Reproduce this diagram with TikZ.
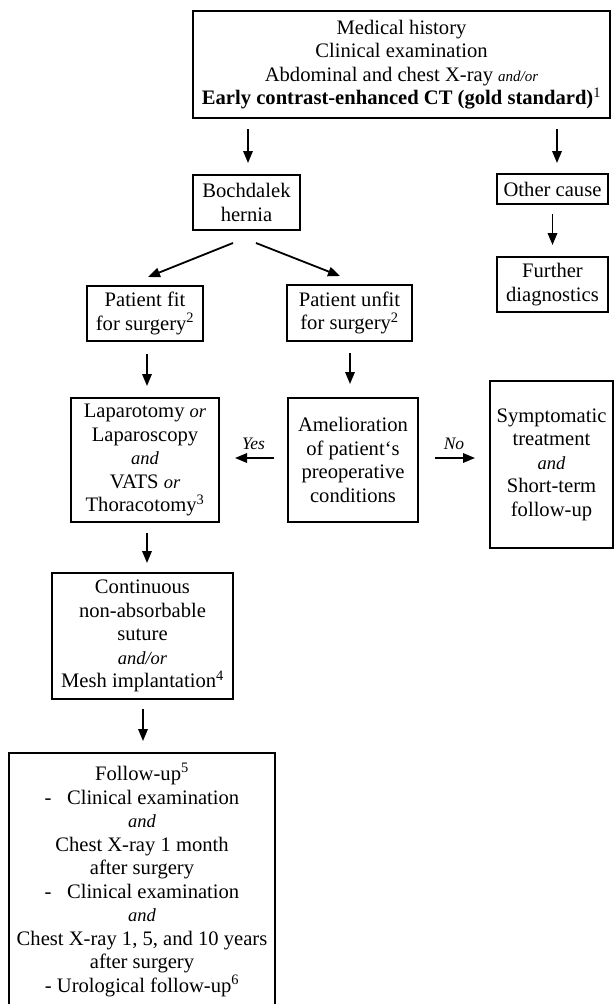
\documentclass[tikz,border=0pt]{standalone}
\usepackage{fontspec}
\setmainfont{Liberation Serif}
\usetikzlibrary{arrows.meta,calc}
\newcommand{\ita}[1]{{\fontsize{18.5}{23.5}\selectfont\itshape #1}}
\begin{document}
\begin{tikzpicture}[
  x=1pt,y=1pt,
  box/.style={draw, line width=2pt, align=center, inner sep=0pt,
    font=\fontsize{20.6}{23.5}\selectfont},
  arr/.style={line width=1.8pt, -{Triangle[length=12pt,width=9.5pt]}},
  lbl/.style={font=\fontsize{17.5}{20}\selectfont\itshape, inner sep=0pt}
]
\useasboundingbox (0,0) rectangle (614,-1004);

\node[box, minimum width=417pt, minimum height=107pt] (top) at (401.5,-64.5)
  {Medical history\\Clinical examination\\Abdominal and chest X-ray {\fontsize{15}{23.5}\selectfont\itshape and/or}\\\textbf{Early contrast-enhanced CT (gold standard)}\textsuperscript{1}};

\node[box, minimum width=107pt, minimum height=55pt] (boch) at (246.5,-202.5)
  {Bochdalek\\hernia};
\node[box, minimum width=111pt, minimum height=30pt] (other) at (552.5,-189)
  {Other cause};
\node[box, minimum width=111pt, minimum height=55pt] (further) at (552.5,-284.5)
  {Further\\diagnostics};
\node[box, minimum width=116pt, minimum height=55pt] (fit) at (145,-313.5)
  {Patient fit\\for surgery\textsuperscript{2}};
\node[box, minimum width=125pt, minimum height=56pt] (unfit) at (349.5,-313)
  {Patient unfit\\for surgery\textsuperscript{2}};
\node[box, minimum width=148pt, minimum height=124pt] (lap) at (145,-460)
  {Laparotomy \ita{or}\\Laparoscopy\\\ita{and}\\VATS \ita{or}\\Thoracotomy\textsuperscript{3}};
\node[box, minimum width=130pt, minimum height=124pt] (amel) at (353,-460)
  {Amelioration\\of patient‘s\\preoperative\\conditions};
\node[box, minimum width=123pt, minimum height=167pt] (sym) at (551.5,-464.5)
  {Symptomatic\\treatment\\\ita{and}\\Short-term\\follow-up};
\node[box, minimum width=181pt, minimum height=126pt] (cont) at (142.5,-636)
  {Continuous\\non-absorbable\\suture\\\ita{and/or}\\Mesh implantation\textsuperscript{4}};
\node[box, draw=none, minimum width=264pt, minimum height=252pt] (fu) at (142,-880)
  {Follow-up\textsuperscript{5}\\-\hspace{0.75em}Clinical examination\\\ita{and}\\Chest X-ray 1 month\\after surgery\\-\hspace{0.75em}Clinical examination\\\ita{and}\\Chest X-ray 1, 5, and 10 years\\after surgery\\- Urological follow-up\textsuperscript{6}};
\draw[line width=2pt] (fu.south west) -- (fu.north west) -- (fu.north east) -- (fu.south east);

% connectors
\draw[arr, shorten <=10pt, shorten >=11pt] ([xshift=1.5pt]top.south -| boch.north) -- ([xshift=1.5pt]boch.north);
\draw[arr, shorten <=10pt, shorten >=10pt] ([xshift=4.5pt]top.south -| other.north) -- ([xshift=4.5pt]other.north);
\draw[arr, shorten <=9pt, shorten >=11pt] (other.south) -- (further.north);
\draw[arr] ([xshift=-13.5pt,yshift=-12pt]boch.south) -- ([xshift=3pt,yshift=8pt]fit.north);
\draw[arr] ([xshift=9.5pt,yshift=-12pt]boch.south) -- ([xshift=-9.5pt,yshift=8pt]unfit.north);
\draw[arr, shorten <=12pt, shorten >=11pt] ([xshift=2pt]fit.south) -- ([xshift=2pt]fit.south |- lap.north);
\draw[arr, shorten <=11pt, shorten >=13pt] ([xshift=0.5pt]unfit.south) -- ([xshift=0.5pt]unfit.south |- amel.north);
\draw[arr, shorten <=13pt, shorten >=15pt] ([yshift=2pt]amel.west) -- ([yshift=2pt]amel.west -| lap.east)
  node[lbl, midway, above=7pt] (yes) {Yes};
\draw[arr, shorten <=16pt, shorten >=14pt] ([yshift=2pt]amel.east) -- ([yshift=2pt]amel.east -| sym.west)
  node[lbl, midway, above=7pt] (no) {No};
\draw[arr, shorten <=10pt, shorten >=9pt] ([xshift=2pt]lap.south) -- ([xshift=2pt]lap.south |- cont.north);
\draw[arr, shorten <=9pt, shorten >=12pt] ([xshift=0.5pt]cont.south) -- ([xshift=0.5pt]cont.south |- fu.north);
\end{tikzpicture}
\end{document}
